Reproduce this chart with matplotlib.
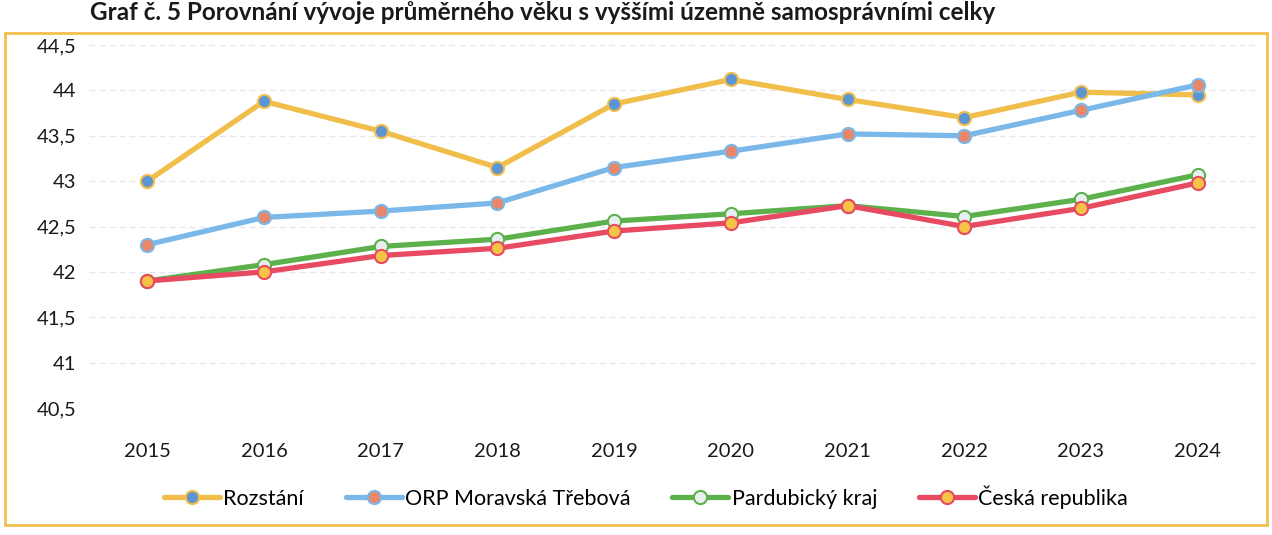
import matplotlib.pyplot as plt
from matplotlib.patches import Rectangle

plt.rcParams['font.family'] = ['Lato', 'DejaVu Sans']

years = ['2015', '2016', '2017', '2018', '2019', '2020', '2021', '2022', '2023', '2024']
rozstani = [43.0, 43.88, 43.55, 43.15, 43.85, 44.12, 43.9, 43.7, 43.98, 43.95]
orp_mt = [42.3, 42.6, 42.67, 42.76, 43.15, 43.33, 43.52, 43.5, 43.78, 44.06]
pardubicky = [41.9, 42.08, 42.28, 42.36, 42.56, 42.64, 42.73, 42.61, 42.8, 43.07]
cr = [41.9, 42.0, 42.18, 42.26, 42.45, 42.54, 42.73, 42.5, 42.7, 42.98]

labels = ['Rozstání', 'ORP Moravská Třebová', 'Pardubický kraj', 'Česká republika']
line_colors = ['#F1BE4C', '#79B8E9', '#5DB14C', '#E84A62']
face_colors = ['#5B95D3', '#E8876A', '#E9EEF0', '#F6C346']
yticks = [40.5, 41, 41.5, 42, 42.5, 43, 43.5, 44, 44.5]
title = 'Graf č. 5 Porovnání vývoje průměrného věku s vyššími územně samosprávními celky'

fig = plt.figure(figsize=(12.72, 5.35), dpi=100)
ax = fig.add_axes([89 / 1272, 1 - 408 / 535, (1256 - 89) / 1272, (408 - 45) / 535])

x = list(range(len(years)))
series = [rozstani, orp_mt, pardubicky, cr]
handles = []
for vals, lab, lc, fc in zip(series, labels, line_colors, face_colors):
    h, = ax.plot(x, vals, color=lc, lw=3.8, marker='o', markersize=9.5,
                 markerfacecolor=fc, markeredgecolor=lc, markeredgewidth=1.5,
                 label=lab, solid_capstyle='round', zorder=3)
    handles.append(h)

ax.set_xlim(-0.5, len(years) - 0.5)
ax.set_ylim(40.5, 44.5)
ax.set_xticks(x)
ax.set_xticklabels(years)
ax.set_yticks(yticks)
ax.set_yticklabels([f'{v:g}'.replace('.', ',') for v in yticks])
ax.tick_params(length=0, labelsize=14.5, colors='#1a1a1a')
ax.tick_params(axis='x', pad=25)
ax.tick_params(axis='y', pad=9)
ax.grid(axis='y', color='#e6e6ef', lw=0.9, ls=(0, (5, 3)))
for s in ax.spines.values():
    s.set_visible(False)

fig.legend(handles=handles, loc='center', bbox_to_anchor=(646 / 1272, 1 - 497 / 535),
           ncol=4, frameon=False, fontsize=15.5, handlelength=2.6,
           handletextpad=0.15, columnspacing=1.95)

fig.patches.append(Rectangle((5 / 1272, 1 - 525 / 535), 1262 / 1272, 492 / 535,
                             transform=fig.transFigure, fill=False,
                             edgecolor='#F2C050', lw=2))
fig.text(995 / 1272, 1 - 13 / 535, title, ha='right', va='center',
         fontsize=17.5, fontweight='bold', color='#1a1a1a')

fig.savefig('out.png', dpi=100)
